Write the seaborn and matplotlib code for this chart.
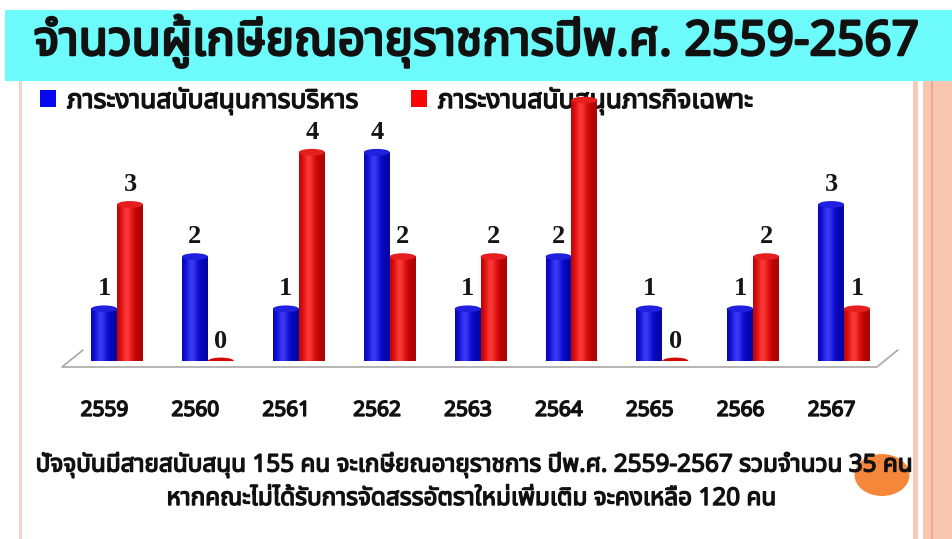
import numpy as np
import pandas as pd
import matplotlib
matplotlib.use("Agg")
import matplotlib.pyplot as plt
import seaborn as sns
from matplotlib import font_manager, patheffects
from matplotlib.ft2font import FT2Font
from matplotlib.patches import Rectangle, Ellipse
from matplotlib.transforms import ScaledTranslation
import matplotlib.colors as mcolors

# ---- data -------------------------------------------------------------
years = ["2559", "2560", "2561", "2562", "2563", "2564", "2565", "2566", "2567"]
admin_support = [1, 2, 1, 4, 1, 2, 1, 1, 3]
mission_support = [3, 0, 4, 2, 2, 5, 0, 2, 1]
series_names = ["ภาระงานสนับสนุนการบริหาร", "ภาระงานสนับสนุนภารกิจเฉพาะ"]
series_colors = ["#0808F0", "#F80606"]

title = "จำนวนผู้เกษียณอายุราชการปีพ.ศ. 2559-2567"
note_1 = "ปัจจุบันมีสายสนับสนุน 155 คน จะเกษียณอายุราชการ ปีพ.ศ. 2559-2567 รวมจำนวน 35 คน"
note_2 = "หากคณะไม่ได้รับการจัดสรรอัตราใหม่เพิ่มเติม จะคงเหลือ 120 คน"


def find_thai_font():
    preferred = ["Noto Sans Thai", "Noto Sans Thai UI", "Loma", "Garuda", "Waree",
                 "Sarabun", "Tlwg Typo", "Umpush", "Kinnari", "Norasi", "FreeSans",
                 "Noto Looped Thai", "Noto Serif Thai"]
    found = {}
    for entry in font_manager.fontManager.ttflist:
        if entry.name in found:
            continue
        try:
            if 0x0E08 in FT2Font(entry.fname).get_charmap():
                found[entry.name] = entry.fname
        except Exception:
            pass
    for name in preferred:
        if name in found:
            return name
    return next(iter(found), None)


def heavy(width, color="#111111"):
    return [patheffects.withStroke(linewidth=width, foreground=color)]


thai_font = find_thai_font()
sns.set_theme(style="white")
families = ([thai_font] if thai_font else []) + ["DejaVu Sans"]
plt.rcParams["font.family"] = families

W, H = 953, 539
fig = plt.figure(figsize=(W / 100, H / 100), dpi=100)
fig.patch.set_facecolor("white")

# ---- page decoration ------------------------------------------------------
fig.add_artist(Rectangle((5 / W, 1 - 81 / H), 1, 71 / H, transform=fig.transFigure,
                         facecolor="#6CFAFA", edgecolor="none", zorder=5))
fig.add_artist(Rectangle((19 / W, 0), 3 / W, 1 - 80 / H, transform=fig.transFigure,
                         facecolor="#F6D3C6", edgecolor="none", zorder=0.2))
fig.add_artist(Rectangle((913 / W, 0), 5 / W, 1 - 80 / H, transform=fig.transFigure,
                         facecolor="#F8C9B8", edgecolor="none", zorder=0.2))
fig.add_artist(Rectangle((923 / W, 0), 30 / W, 1 - 80 / H, transform=fig.transFigure,
                         facecolor="#F9C6B2", edgecolor="none", zorder=0.2))
fig.add_artist(Rectangle((931 / W, 0), 2 / W, 1 - 80 / H, transform=fig.transFigure,
                         facecolor="#EFA98C", edgecolor="none", zorder=0.3))

# ---- chart ----------------------------------------------------------------
ax = fig.add_axes([71.6 / W, 178 / H, 818 / W, 287 / H])
ax.patch.set_alpha(0)

df = pd.DataFrame({
    "year": years * 2,
    "count": admin_support + mission_support,
    "series": [series_names[0]] * len(years) + [series_names[1]] * len(years),
})
sns.barplot(data=df, x="year", y="count", hue="series", palette=series_colors,
            width=0.57, saturation=1, linewidth=0, ax=ax)

# cylinder look: horizontal shading plus elliptical caps
cap_h = 0.13
xx = np.linspace(0, 1, 64)
profile = np.exp(-((xx - 0.38) / 0.34) ** 2)
for p in list(ax.patches):
    x0, w, h = p.get_x(), p.get_width(), p.get_height()
    base = np.array(mcolors.to_rgb(p.get_facecolor()))
    shade = base[None, :] * (0.68 + 0.32 * profile[:, None]) \
        + (1 - base[None, :]) * 0.20 * profile[:, None] ** 3
    grad = np.clip(shade, 0, 1)[None, :, :]
    cx = x0 + w / 2
    if h > 0:
        ax.imshow(grad, extent=[x0, x0 + w, 0, h], aspect="auto", zorder=2,
                  interpolation="bilinear")
        ax.add_patch(Ellipse((cx, 0), w, cap_h, facecolor=base * 0.78,
                             edgecolor="none", zorder=1.9))
    top = np.clip(base * 0.92 + (1 - base) * 0.10, 0, 1)
    ax.add_patch(Ellipse((cx, h), w, cap_h, facecolor=top if h > 0 else base * 0.85,
                         edgecolor="none", zorder=3))
    p.set_alpha(0)

# value labels; a bar that reaches up into the legend band carries none
label_limit = 4.5
for cont in ax.containers:
    texts = [f"{v:.0f}" if v < label_limit else "" for v in cont.datavalues]
    ax.bar_label(cont, labels=texts, padding=6, fontsize=19, fontweight="bold",
                 family=["Liberation Serif", "DejaVu Serif"], color="#151515",
                 zorder=1.5)

# floor of the chart
ax.plot([-0.375, -0.606, 8.36, 8.59], [0.21, -0.115, -0.115, 0.21],
        color="#A8A8A8", lw=1.2, clip_on=False, zorder=0.8)

ax.set_xlim(-0.5, 8.5)
ax.set_ylim(0, 5.5)
ax.set_yticks([])
ax.set_xlabel("")
ax.set_ylabel("")
sns.despine(ax=ax, left=True, bottom=True)
ax.tick_params(axis="x", length=0, pad=28, labelsize=15, labelcolor="#111111")
shift = ScaledTranslation(-9 / 72, 0, fig.dpi_scale_trans)
for lab in ax.get_xticklabels():
    lab.set_path_effects(heavy(1.1))
    lab.set_transform(lab.get_transform() + shift)

sns.move_legend(ax, "upper left", bbox_to_anchor=(36 / W, 1 - 83 / H),
                bbox_transform=fig.transFigure, ncol=2, frameon=False, title=None,
                prop={"size": 19}, handlelength=0.62, handleheight=0.62,
                handletextpad=0.4, columnspacing=2.0, borderpad=0.15,
                borderaxespad=0)
leg = ax.get_legend()
leg.set_zorder(1.7)
for t in leg.get_texts():
    t.set_color("#111111")
    t.set_path_effects(heavy(1.0))

# ---- texts ----------------------------------------------------------------
fig.text(0.5, 1 - 41 / H, title, ha="center", va="center", fontsize=34.5,
         color="#111111", zorder=6, path_effects=heavy(1.8))
fig.add_artist(Ellipse((882 / W, (H - 475) / H), 55 / W, 42 / H,
                       transform=fig.transFigure, facecolor="#F5873A",
                       edgecolor="none", zorder=1))
fig.text(475 / W, (H - 465) / H, note_1, ha="center", va="center", fontsize=17.5,
         color="#111111", zorder=2, path_effects=heavy(1.0))
fig.text(472 / W, (H - 499) / H, note_2, ha="center", va="center", fontsize=17.5,
         color="#111111", zorder=2, path_effects=heavy(1.0))

fig.savefig("out.png", dpi=100)
